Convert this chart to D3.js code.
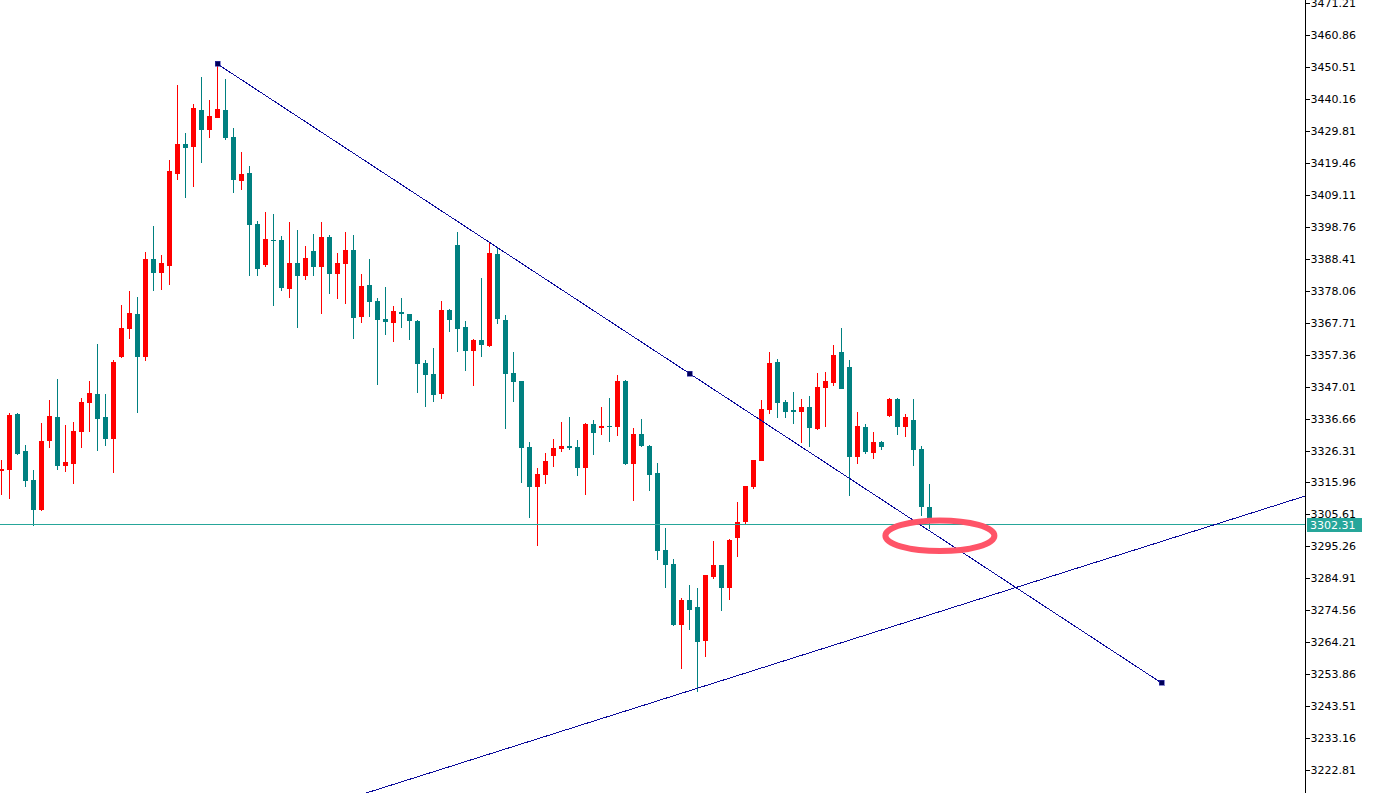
<!DOCTYPE html>
<html>
<head>
<meta charset="utf-8">
<script src="https://cdn.jsdelivr.net/npm/d3@7/dist/d3.min.js"></script>
<style>
  html, body { margin: 0; padding: 0; background: #ffffff; }
  svg { display: block; }
</style>
</head>
<body>
<div id="chart"></div>
<script>
// ---------------- DATA ----------------
const opens = [
  3319.7,3320.0,3338.2,3326.1,3316.7,3307.1,3329.4,3337.2,3321.4,3322.0,
  3332.3,3341.7,3344.6,3337.2,3330.0,3356.6,3365.7,3370.5,3356.6,3388.3,
  3383.8,3386.2,3416.0,3425.6,3424.7,3436.6,3430.2,3434.1,3436.6,3427.9,
  3413.7,3416.2,3399.7,3386.5,3394.5,3394.5,3378.7,3387.0,3382.9,3390.9,
  3385.8,3395.5,3383.6,3386.8,3391.2,3369.6,3379.9,3374.7,3368.9,3367.7,
  3371.2,3370.5,3368.3,3354.6,3351.1,3344.7,3371.9,3392.9,3366.3,3358.6,
  3362.2,3360.3,3390.0,3368.7,3351.3,3348.9,3327.4,3314.6,3318.5,3324.6,
  3326.9,3327.8,3327.4,3320.7,3334.9,3333.7,3334.2,3334.0,3348.8,3322.0,
  3331.6,3327.8,3319.0,3294.1,3289.5,3269.9,3277.9,3275.6,3264.7,3285.4,
  3289.2,3281.9,3298.1,3303.0,3314.6,3323.0,3339.5,3355.0,3342.0,3339.3,
  3338.9,3340.4,3333.4,3346.6,3348.3,3358.2,3353.4,3324.3,3333.9,3325.6,
  3329.1,3337.6,3343.0,3334.0,3336.3,3326.9,3308.0
];
const highs = [
  3323.3,3338.4,3338.4,3328.1,3320.0,3335.3,3342.7,3349.5,3334.6,3335.5,
  3343.3,3348.8,3360.8,3344.6,3355.6,3373.4,3378.0,3376.0,3390.6,3399.0,
  3389.6,3420.4,3444.7,3429.2,3438.5,3447.3,3439.9,3451.5,3446.6,3430.8,
  3423.0,3418.5,3400.6,3403.6,3402.9,3395.8,3400.3,3397.7,3392.5,3396.4,
  3400.3,3396.1,3390.3,3397.1,3396.1,3383.5,3388.3,3375.7,3379.3,3373.1,
  3375.7,3370.5,3368.6,3355.7,3359.6,3374.7,3372.2,3397.1,3368.3,3362.5,
  3382.2,3393.6,3392.0,3370.2,3358.3,3348.9,3329.2,3320.7,3325.6,3330.0,
  3335.5,3337.2,3329.7,3335.2,3336.2,3340.4,3343.3,3350.8,3349.1,3333.6,
  3336.5,3328.1,3322.4,3301.2,3291.2,3278.5,3282.7,3281.9,3286.0,3297.1,
  3289.2,3297.6,3309.6,3314.8,3323.2,3342.7,3358.2,3355.9,3342.7,3345.3,
  3343.0,3344.0,3351.4,3351.7,3360.5,3366.0,3355.6,3338.8,3334.9,3332.3,
  3329.5,3343.3,3343.3,3338.2,3343.0,3327.9,3315.5
];
const lows = [
  3311.9,3310.7,3324.8,3314.6,3301.9,3306.8,3327.1,3320.1,3319.4,3315.6,
  3327.1,3332.3,3326.1,3327.8,3319.0,3356.3,3362.4,3338.4,3355.3,3378.0,
  3378.3,3380.0,3414.0,3408.2,3411.8,3419.5,3427.6,3434.1,3427.0,3409.7,
  3410.8,3382.9,3382.8,3385.8,3373.1,3378.1,3375.8,3366.1,3381.6,3382.9,
  3370.6,3377.1,3375.5,3373.9,3362.5,3367.7,3369.6,3347.6,3363.8,3361.5,
  3366.1,3362.2,3345.0,3340.5,3342.1,3343.1,3364.8,3358.3,3352.2,3347.3,
  3356.7,3359.9,3367.4,3333.4,3342.1,3315.9,3304.5,3295.5,3315.5,3321.1,
  3325.9,3326.6,3318.1,3312.0,3324.9,3331.4,3329.2,3331.1,3321.6,3310.0,
  3327.5,3313.3,3290.9,3281.9,3269.4,3255.6,3268.3,3248.2,3259.5,3284.8,
  3274.4,3278.0,3291.9,3302.4,3313.9,3323.0,3338.2,3336.9,3336.9,3335.0,
  3328.8,3327.5,3333.0,3334.0,3347.3,3346.3,3311.7,3322.0,3325.3,3323.6,
  3326.6,3337.2,3331.4,3330.8,3321.4,3305.2,3300.8
];
const closes = [
  3320.3,3337.8,3325.3,3316.5,3307.1,3329.4,3337.5,3321.4,3322.6,3332.6,
  3342.0,3344.9,3336.5,3330.0,3355.0,3366.0,3370.9,3356.6,3388.3,3383.8,
  3387.0,3416.8,3425.6,3424.4,3437.3,3430.2,3434.7,3436.9,3427.6,3414.0,
  3415.9,3399.4,3385.2,3394.8,3394.2,3378.9,3387.0,3382.9,3388.7,3385.8,
  3395.5,3383.6,3387.0,3391.2,3369.3,3379.6,3374.5,3368.7,3368.0,3371.5,
  3370.6,3368.4,3354.4,3350.9,3344.4,3371.9,3368.7,3365.8,3358.6,3362.2,
  3360.6,3390.4,3369.0,3351.0,3348.6,3327.2,3314.6,3318.7,3323.0,3327.1,
  3327.8,3327.2,3320.7,3334.9,3332.1,3334.2,3333.9,3348.8,3321.9,3331.6,
  3327.9,3318.5,3293.8,3289.3,3269.7,3277.9,3274.8,3264.4,3286.0,3289.2,
  3281.9,3297.3,3303.1,3314.8,3323.2,3339.7,3354.7,3341.8,3338.9,3338.9,
  3340.4,3333.7,3346.9,3348.8,3357.2,3346.3,3324.3,3334.2,3325.9,3329.1,
  3327.5,3343.0,3334.0,3337.2,3326.6,3307.9,3304.5
];

// price axis tick labels
const tickLabels = [
  3471.21,3460.86,3450.51,3440.16,3429.81,3419.46,3409.11,3398.76,3388.41,
  3378.06,3367.71,3357.36,3347.01,3336.66,3326.31,3315.96,3305.61,3295.26,
  3284.91,3274.56,3264.21,3253.86,3243.51,3233.16,3222.81
];

const currentPrice = [3302.31];

// trend line 1 (selected, with three anchor points): bar index, price
const trend1Bars   = [27, 145];
const trend1Prices = [3451.5, 3251.0];
// trend line 2 (support), two reference points: bar index, price
const trend2Bars   = [87, 163];
const trend2Prices = [3249.3, 3311.6];

// highlight ellipse centre: bar index, price
const markBar = [117.3];
const markPrice = [3298.7];

// ---------------- CHART ----------------
const W = 1374, H = 793;
const axisX = 1305;

const svg = d3.select("#chart").append("svg")
  .attr("width", W).attr("height", H)
  .style("font-family", "'DejaVu Sans', Verdana, sans-serif");

svg.append("rect").attr("width", W).attr("height", H).attr("fill", "#ffffff");

// x: bar index -> pixel column ; y: price -> pixel
const x = d3.scaleLinear().domain([0, 1]).range([1, 9]);
const y = d3.scaleLinear().domain([3222.81, 3471.21]).range([770, 3.2]);

const bars = opens.map((o, i) => ({ i, o, h: highs[i], l: lows[i], c: closes[i] }));

svg.append("defs").append("clipPath").attr("id", "plot")
  .append("rect").attr("x", 0).attr("y", 0).attr("width", axisX).attr("height", H);

const plot = svg.append("g").attr("clip-path", "url(#plot)");

const UP = "#ff0000", DOWN = "#008080";

// wicks
plot.append("g").selectAll("rect").data(bars).join("rect")
  .attr("x", d => x(d.i))
  .attr("y", d => Math.round(y(d.h)))
  .attr("width", 1)
  .attr("height", d => Math.max(1, Math.round(y(d.l)) - Math.round(y(d.h))))
  .attr("fill", d => d.c >= d.o ? UP : DOWN)
  .attr("shape-rendering", "crispEdges");

// bodies
plot.append("g").selectAll("rect").data(bars).join("rect")
  .attr("x", d => x(d.i) - 2)
  .attr("y", d => Math.round(y(Math.max(d.o, d.c))))
  .attr("width", 5)
  .attr("height", d => Math.max(1, Math.round(y(Math.min(d.o, d.c))) - Math.round(y(Math.max(d.o, d.c)))))
  .attr("fill", d => d.c >= d.o ? UP : DOWN)
  .attr("shape-rendering", "crispEdges");

// current price line
const py = Math.floor(y(currentPrice[0])) + 0.5;
plot.append("line")
  .attr("x1", 0).attr("x2", axisX).attr("y1", py).attr("y2", py)
  .attr("stroke", "#26a69a").attr("stroke-width", 1)
  .attr("shape-rendering", "crispEdges");

const LINE = "#0a0a9a";

// trend line 2 (extended across plot)
{
  const t0 = x.invert(0), t1 = x.invert(axisX);
  const slope = (trend2Prices[1] - trend2Prices[0]) / (trend2Bars[1] - trend2Bars[0]);
  const pAt = t => trend2Prices[0] + slope * (t - trend2Bars[0]);
  plot.append("line")
    .attr("x1", x(t0) + 0.5).attr("y1", y(pAt(t0)))
    .attr("x2", x(t1) + 0.5).attr("y2", y(pAt(t1)))
    .attr("stroke", LINE).attr("stroke-width", 1)
    .attr("shape-rendering", "crispEdges");
}

// trend line 1 with anchors
{
  const x1 = x(trend1Bars[0]) + 0.5, y1 = y(trend1Prices[0]);
  const x2 = x(trend1Bars[1]) + 0.5, y2 = y(trend1Prices[1]);
  plot.append("line")
    .attr("x1", x1).attr("y1", y1).attr("x2", x2).attr("y2", y2)
    .attr("stroke", LINE).attr("stroke-width", 1)
    .attr("shape-rendering", "crispEdges");
  const pts = [[x1, y1], [(x1 + x2) / 2, (y1 + y2) / 2], [x2, y2]];
  plot.append("g").selectAll("rect").data(pts).join("rect")
    .attr("x", d => Math.round(d[0]) - 3)
    .attr("y", d => Math.round(d[1]) - 3)
    .attr("width", 5).attr("height", 5)
    .attr("fill", "#00005a")
    .attr("stroke", "#3a3ab0").attr("stroke-width", 0.6)
    .attr("shape-rendering", "crispEdges");
}

// highlight ellipse
svg.append("ellipse")
  .attr("cx", x(markBar[0]) + 0.5)
  .attr("cy", y(markPrice[0]))
  .attr("rx", 54.5).attr("ry", 15.3)
  .attr("fill", "none")
  .attr("stroke", "#ff5468").attr("stroke-width", 6);

// price axis
const axis = d3.axisRight(y)
  .tickValues(tickLabels)
  .tickSize(4)
  .tickSizeOuter(0)
  .tickPadding(1)
  .tickFormat(d3.format(".2f"));

const gA = svg.append("g")
  .attr("transform", `translate(${axisX + 0.5},0)`)
  .call(axis);
gA.select(".domain").remove();
gA.selectAll(".tick line").attr("stroke", "#000").attr("shape-rendering", "crispEdges");
gA.selectAll(".tick text")
  .attr("fill", "#000")
  .style("font-size", "11px")
  .style("font-family", "'DejaVu Sans', Verdana, sans-serif");

svg.append("line")
  .attr("x1", axisX + 0.5).attr("x2", axisX + 0.5)
  .attr("y1", 0).attr("y2", H)
  .attr("stroke", "#000").attr("stroke-width", 1)
  .attr("shape-rendering", "crispEdges");

// current price label
const pyc = y(currentPrice[0]);
svg.append("rect")
  .attr("x", axisX + 2).attr("y", Math.round(pyc) - 7)
  .attr("width", 55).attr("height", 14)
  .attr("fill", "#26a69a")
  .attr("shape-rendering", "crispEdges");
svg.append("text")
  .attr("x", axisX + 5).attr("y", pyc)
  .attr("dy", "0.36em")
  .attr("fill", "#ffffff")
  .style("font-size", "11px")
  .text(d3.format(".2f")(currentPrice[0]));
</script>
</body>
</html>
